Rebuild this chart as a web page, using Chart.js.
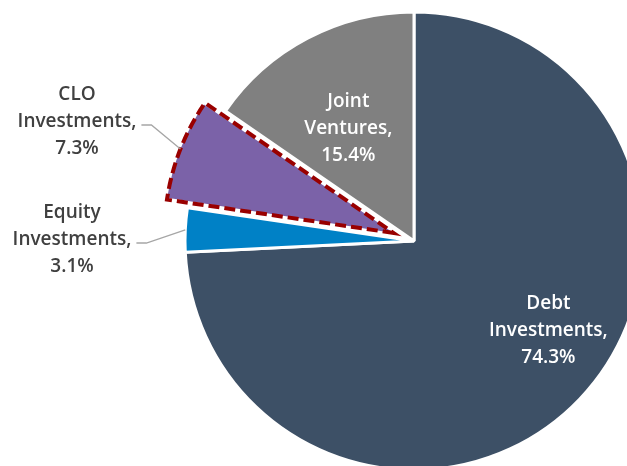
<!DOCTYPE html>
<html>
<head>
<meta charset="utf-8">
<script src="https://cdn.jsdelivr.net/npm/chart.js@4"></script>
<style>
  html, body { margin: 0; padding: 0; background: #fff; overflow: hidden; }
  #wrap { position: absolute; left: 0; top: 0; }
</style>
</head>
<body>
<div id="wrap"><canvas id="miGrafico" width="828" height="482"></canvas></div>
<script>
const categorias = ['Debt Investments', 'Equity Investments', 'CLO Investments', 'Joint Ventures'];
const porcentajes = [74.3, 3.1, 7.3, 15.4];

const colores = ['#3D5066', '#0081C6', '#7B62A8', '#808080'];
const despiece = [0, 0, 88, 0];   // Chart.js v4 moves an arc by offset/4
const radioPie = 229;

// donde va cada etiqueta: dentro (relativa al punto medio del arco) o fuera (relativa al centro)
const etiquetas = [
    { dentro: true, frac: 0.72, dx: 15, dy: -24 },
    { dentro: false, cx: -342, cy: -1 },
    { dentro: false, cx: -337, cy: -119 },
    { dentro: true, frac: 0.57, dx: -5, dy: 3 }
];

function lineasEtiqueta(i) {
    const l = categorias[i].split(' ');
    l[l.length - 1] = l[l.length - 1] + ',';
    return [...l, porcentajes[i].toFixed(1) + '%'];
}

const pluginEtiquetas = {
    id: 'etiquetas',
    afterUpdate(chart) {
        // Chart.js agranda el arco desplazado; se corrige para que quede con el mismo radio
        chart.getDatasetMeta(0).data.forEach((arco, i) => {
            const d = despiece[i] / 4;
            if (!d) return;
            const fix = 1 - Math.sin(Math.min(Math.PI, arco.circumference));
            arco.outerRadius = arco.outerRadius - d * fix;
        });
    },
    afterDatasetsDraw(chart) {
        const ctx = chart.ctx;
        const arcos = chart.getDatasetMeta(0).data;
        const cx0 = arcos[0].x, cy0 = arcos[0].y;

        // borde discontinuo del segmento CLO
        const clo = arcos[2];
        const mitad = (clo.startAngle + clo.endAngle) / 2;
        const desp = despiece[2] / 4;
        const ox = clo.x + Math.cos(mitad) * desp, oy = clo.y + Math.sin(mitad) * desp;
        ctx.save();
        ctx.beginPath();
        ctx.moveTo(ox, oy);
        ctx.arc(ox, oy, radioPie, clo.startAngle, clo.endAngle);
        ctx.closePath();
        ctx.setLineDash([11, 5]);
        ctx.lineWidth = 4;
        ctx.strokeStyle = '#990000';
        ctx.lineJoin = 'miter';
        ctx.stroke();
        ctx.restore();

        ctx.save();
        ctx.font = '600 19px "Open Sans", Lato, sans-serif';
        ctx.textAlign = 'center';
        ctx.textBaseline = 'middle';
        const alto = 27;
        arcos.forEach((arco, i) => {
            const e = etiquetas[i];
            const m = (arco.startAngle + arco.endAngle) / 2;
            const d = despiece[i] / 4;
            const lineas = lineasEtiqueta(i);
            let tx, ty;
            if (e.dentro) {
                tx = arco.x + Math.cos(m) * radioPie * e.frac + e.dx;
                ty = arco.y + Math.sin(m) * radioPie * e.frac + e.dy;
                ctx.fillStyle = '#FFFFFF';
            } else {
                tx = cx0 + e.cx;
                ty = cy0 + e.cy;
                ctx.fillStyle = '#404040';
                // linea guia
                const w = ctx.measureText(lineas[1]).width;
                const finX = tx + w / 2 + 5;
                const codoX = finX + 10;
                const yl = ty + 3;
                const bx = arco.x + Math.cos(m) * (radioPie + d);
                const by = arco.y + Math.sin(m) * (radioPie + d);
                ctx.beginPath();
                ctx.moveTo(finX, yl);
                ctx.lineTo(codoX, yl);
                ctx.lineTo(bx, by);
                ctx.strokeStyle = '#A6A6A6';
                ctx.lineWidth = 1.3;
                ctx.stroke();
            }
            lineas.forEach((t, k) => {
                ctx.fillText(t, tx, ty + (k - (lineas.length - 1) / 2) * alto);
            });
        });
        ctx.restore();
    }
};

new Chart(document.getElementById('miGrafico').getContext('2d'), {
    type: 'pie',
    data: {
        labels: categorias,
        datasets: [{
            data: porcentajes,
            backgroundColor: colores,
            borderColor: '#FFFFFF',
            borderWidth: [3, 3, 0, 3],
            offset: despiece,
            radius: radioPie
        }]
    },
    options: {
        responsive: false,
        animation: false,
        layout: { padding: 0 },
        plugins: {
            legend: { display: false },
            tooltip: { enabled: false }
        }
    },
    plugins: [pluginEtiquetas]
});
</script>
</body>
</html>
